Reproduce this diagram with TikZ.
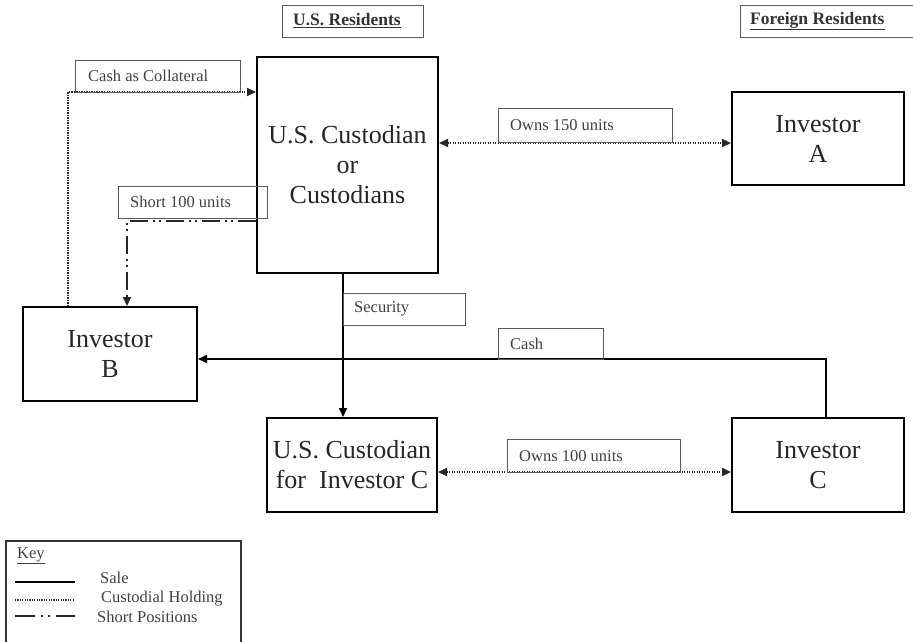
\documentclass[tikz,border=0pt]{standalone}
\usepackage{fontspec}
\setmainfont{Liberation Serif}
\usetikzlibrary{arrows.meta}
\begin{document}
\begin{tikzpicture}[x=1pt,y=-1pt,
  party/.style={draw=black,line width=2pt,align=center,inner sep=0pt,
    font=\fontsize{26}{30}\selectfont,text=black!85},
  tag/.style={draw=black!65,line width=1pt,anchor=north west,inner sep=0pt},
  header/.style={draw=black!65,line width=1.2pt,anchor=north west,inner sep=0pt},
  headtext/.style={inner sep=0pt,font=\fontsize{17.5}{19}\selectfont\bfseries,text=black!80},
  sale/.style={line width=1.6pt,black},
  holding/.style={line width=1.8pt,black!85,dash pattern=on 1.4pt off 1.1pt},
  shortpos/.style={line width=2pt,black!85,
    dash pattern=on 18pt off 5pt on 2pt off 4pt on 2pt off 5pt},
  tip/.style={-{Triangle[length=9pt,width=8pt]}},
  tips/.style={{Triangle[length=9pt,width=8pt]}-{Triangle[length=9pt,width=8pt]}},
  keytext/.style={anchor=west,inner sep=0pt,font=\fontsize{16.5}{18}\selectfont,text=black!75}
]
\useasboundingbox (0,0) rectangle (913,641);

% column headers
\node[header,minimum width=141pt,minimum height=32pt] (hus) at (282,5) {};
\node[headtext,anchor=west] (husT) at (293,21) {\underline{U.S. Residents}};
\node[header,minimum width=180pt,minimum height=32pt] (hfor) at (740,5) {};
\node[headtext,anchor=west] (hforT) at (750,21) {\underline{Foreign Residents}};

% parties
\node[party,minimum width=181pt,minimum height=216pt] (cust) at (347.5,165)
  {U.S. Custodian\\or\\Custodians};
\node[party,minimum width=172pt,minimum height=93pt] (inva) at (818,138.5)
  {Investor\\A};
\node[party,minimum width=174pt,minimum height=94pt] (invb) at (110,354)
  {Investor\\B};
\node[party,minimum width=170pt,minimum height=94pt] (custc) at (352,465)
  {U.S. Custodian\\for\ \ Investor C};
\node[party,minimum width=172pt,minimum height=94pt] (invc) at (818,465)
  {Investor\\C};

% routing points
\coordinate (colx) at (68,92);
\coordinate (shortp) at (127,221);
\coordinate (secx) at (343,0);
\coordinate (cashx) at (826,359);
\coordinate (own150) at (0,143);
\coordinate (own100) at (0,472);

% connectors
\draw[holding,tip] (invb.north -| colx) |- (cust.west |- colx);
\draw[shortpos,tip] (cust.west |- shortp) -| (invb.north -| shortp);
\draw[sale,tip] (cust.south -| secx) -- (custc.north -| secx);
\draw[sale,tip] (invc.north -| cashx) |- (invb.east |- cashx);
\draw[holding,tips] (cust.east |- own150) -- (inva.west |- own150);
\draw[holding,tips] (custc.east |- own100) -- (invc.west |- own100);

% connector labels
\node[tag,minimum width=165pt,minimum height=32pt] (lcol) at (75,60) {};
\node[keytext] (lcolT) at (88,76) {Cash as Collateral};
\node[tag,minimum width=149pt,minimum height=32pt] (lshort) at (118,186) {};
\node[keytext] (lshortT) at (130,202) {Short 100 units};
\node[tag,minimum width=174pt,minimum height=34pt] (l150) at (498,108) {};
\node[keytext] (l150T) at (510,125) {Owns 150 units};
\node[tag,minimum width=122pt,minimum height=32pt] (lsec) at (343,293) {};
\node[keytext] (lsecT) at (354,309) {Security};
\node[tag,minimum width=105pt,minimum height=31pt] (lcash) at (498,328) {};
\node[keytext] (lcashT) at (510,344) {Cash};
\node[tag,minimum width=173pt,minimum height=33pt] (l100) at (507,439) {};
\node[keytext] (l100T) at (519,456) {Owns 100 units};

% key
\node[draw=black!80,line width=1.5pt,anchor=north west,inner sep=0pt,
  minimum width=235pt,minimum height=110pt] (key) at (5,540) {};
\node[keytext] (keyT) at (17,556) {\underline{Key}};
\coordinate (k1a) at (15,582); \coordinate (k1b) at (75,582);
\coordinate (k2a) at (15,600); \coordinate (k2b) at (73,600);
\coordinate (k3a) at (15,616); \coordinate (k3b) at (75,616);
\draw[sale] (k1a) -- (k1b);
\draw[line width=1.2pt,black!80,dash pattern=on 1.2pt off 1.2pt] (k2a) -- (k2b);
\draw[line width=1.8pt,black!85,dash pattern=on 20pt off 6pt on 2pt off 5pt on 2pt off 6pt] (k3a) -- (k3b);
\node[keytext] (kSale) at (100,578) {Sale};
\node[keytext] (kHold) at (101,599) {Custodial Holding};
\node[keytext] (kShort) at (97,617) {Short Positions};
\end{tikzpicture}
\end{document}
